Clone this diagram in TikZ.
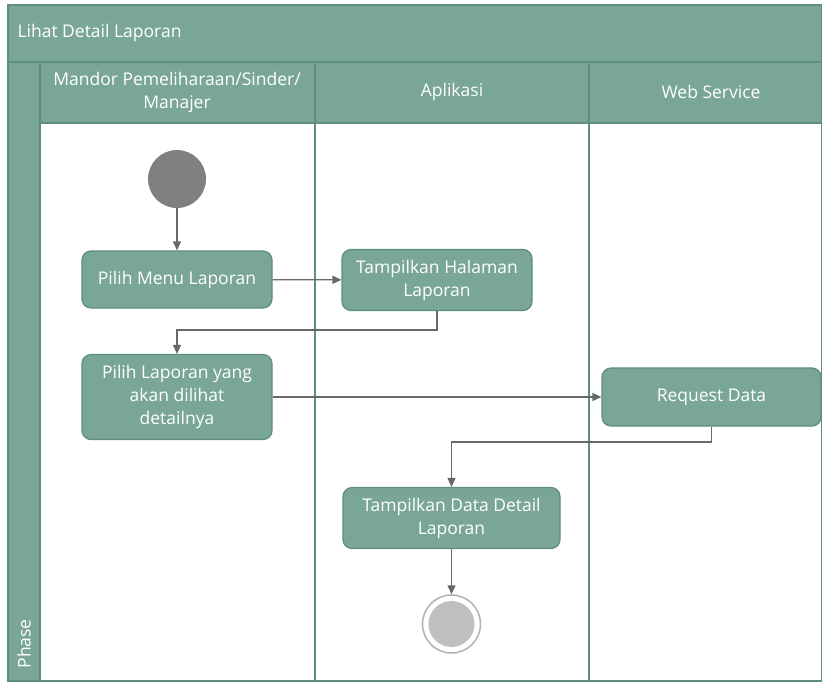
\documentclass[tikz,border=0pt]{standalone}
\usepackage{fontspec}
\setmainfont{Open Sans}
\usetikzlibrary{arrows.meta}
\definecolor{laneteal}{HTML}{7AA698}
\definecolor{laneedge}{HTML}{5F8D7F}
\definecolor{flowgray}{HTML}{686868}
\tikzset{
  actbox/.style={draw=laneedge, line width=1.2pt, fill=laneteal, rounded corners=9pt,
    text=white, align=center, font=\fontsize{17.5}{23}\selectfont, inner sep=0pt},
  flow/.style={draw=flowgray, line width=1.3pt, -{Triangle[length=9pt,width=8pt]}},
  headtext/.style={text=white, align=center, font=\fontsize{17.5}{23}\selectfont}
}
\begin{document}
\begin{tikzpicture}[x=1pt,y=-1pt]
  \useasboundingbox (0,0) rectangle (822,681);
  % swimlane frame
  \fill[laneteal] (8,5) rectangle (822,681);
  \fill[white] (40,123) rectangle (822,681);
  \draw[laneedge, line width=1.2pt] (8,62) -- (822,62);
  \draw[laneedge, line width=1.2pt] (40,62) -- (40,681);
  \draw[laneedge, line width=1.2pt] (40,123) -- (822,123);
  \draw[laneedge, line width=1.2pt] (315,62) -- (315,681);
  \draw[laneedge, line width=1.2pt] (589,62) -- (589,681);
  \draw[laneedge, line width=1.2pt] (8,5) rectangle (822,681);
  % headers
  \node[headtext, anchor=west] (title) at (14,33) {Lihat Detail Laporan};
  \node[headtext] (lanemandor) at (177,92) {Mandor Pemeliharaan/Sinder/\\Manajer};
  \node[headtext] (laneapp) at (452,92) {Aplikasi};
  \node[headtext] (laneweb) at (711,92) {Web Service};
  \node[headtext, rotate=90, anchor=west] (phase) at (24,672) {Phase};
  % activities
  \node[circle, fill=black!50, minimum size=58pt, inner sep=0pt] (start) at (177,179) {};
  \node[actbox, minimum width=190pt, minimum height=57pt] (pilihmenu) at (177,279.5) {Pilih Menu Laporan};
  \node[actbox, minimum width=190pt, minimum height=61pt] (tampilhal) at (437,280) {Tampilkan Halaman\\Laporan};
  \node[actbox, minimum width=190pt, minimum height=85pt] (pilihlap) at (177,397) {Pilih Laporan yang\\akan dilihat\\detailnya};
  \node[actbox, minimum width=219pt, minimum height=58pt] (request) at (711.5,397) {Request Data};
  \node[actbox, minimum width=217pt, minimum height=61pt] (tampildata) at (451.5,518) {Tampilkan Data Detail\\Laporan};
  \node[circle, draw=black!30, line width=1.5pt, fill=white, minimum size=58pt, inner sep=0pt] (stop) at (451.5,624) {};
  \node[circle, fill=black!25, minimum size=46pt, inner sep=0pt] (stopin) at (stop) {};
  % connectors
  \draw[flow] (start) -- (pilihmenu);
  \draw[flow] (pilihmenu) -- (tampilhal);
  \draw[flow] (tampilhal.south) |- (177,330) -- (pilihlap.north);
  \draw[flow] (pilihlap) -- (request);
  \draw[flow] (request.south) |- (451.5,442) -- (tampildata.north);
  \draw[flow] (tampildata) -- (stop);
\end{tikzpicture}
\end{document}
